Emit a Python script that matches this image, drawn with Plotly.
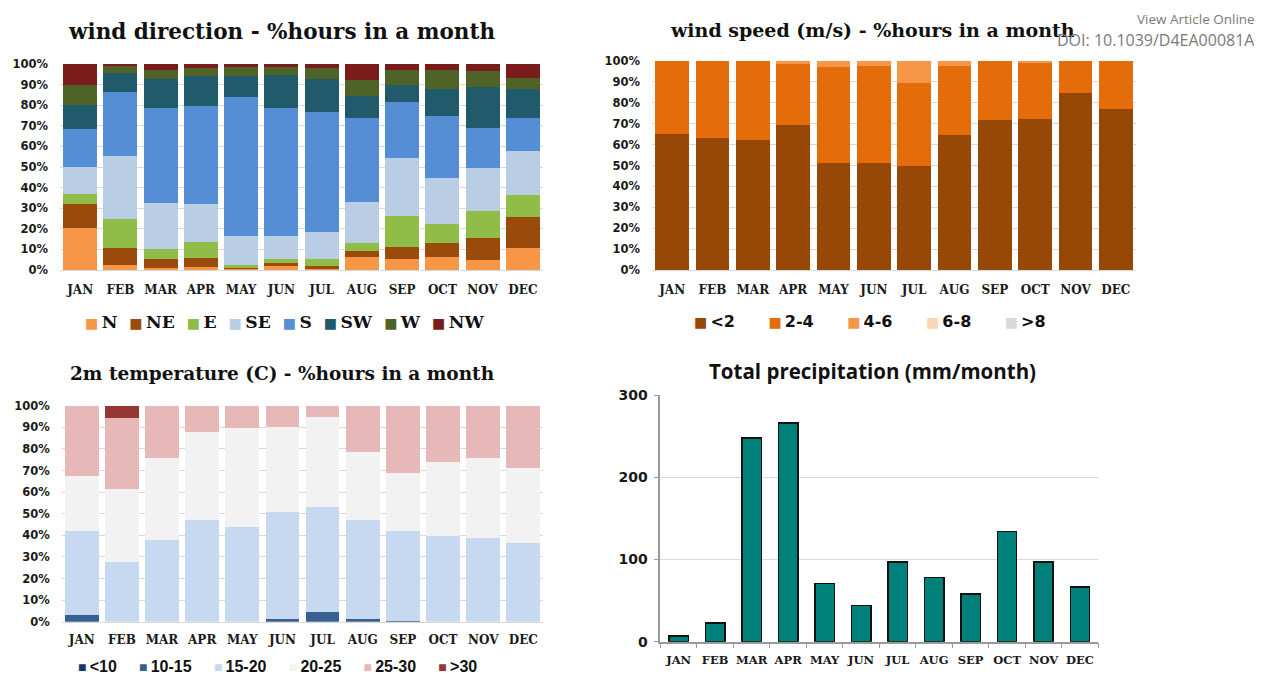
import plotly.graph_objects as go

# page is offset by the browser's default 8px body margin
PAGE_W, PAGE_H, OFF = 1262, 688, 8
W, H = PAGE_W - OFF, PAGE_H - 2 * OFF

months = ["JAN", "FEB", "MAR", "APR", "MAY", "JUN", "JUL", "AUG", "SEP", "OCT", "NOV", "DEC"]

# ---- wind direction (% hours) ----
dir_names = ["N", "NE", "E", "SE", "S", "SW", "W", "NW"]
dir_colors = ["#f79646", "#9a4a0a", "#8fbd47", "#b9cde5", "#558ed5", "#215a6a", "#4f6228", "#7b1c1c"]
dir_N = [20.3, 2.4, 0.8, 1.5, 0.5, 2.0, 0.3, 6.5, 5.2, 6.2, 4.9, 10.5]
dir_NE = [11.8, 8.5, 4.7, 4.3, 0.5, 1.2, 1.7, 2.6, 6.1, 6.8, 10.5, 15.4]
dir_E = [4.7, 13.7, 4.9, 8.0, 1.4, 2.3, 3.2, 4.2, 15.0, 9.5, 13.3, 10.7]
dir_SE = [13.0, 30.5, 22.2, 18.1, 14.3, 11.2, 13.1, 19.8, 28.3, 22.2, 20.6, 21.1]
dir_S = [18.8, 31.4, 46.2, 47.8, 67.1, 62.1, 58.5, 40.6, 26.8, 29.9, 19.6, 16.2]
dir_SW = [11.6, 9.1, 13.9, 14.6, 10.5, 16.0, 16.1, 10.6, 8.6, 13.2, 19.9, 13.9]
dir_W = [9.4, 3.3, 4.5, 3.6, 4.2, 3.7, 5.1, 7.8, 7.2, 9.1, 7.6, 5.4]
dir_NW = [10.4, 1.1, 2.8, 2.1, 1.5, 1.5, 2.0, 7.9, 2.8, 3.1, 3.6, 6.8]
dir_values = [dir_N, dir_NE, dir_E, dir_SE, dir_S, dir_SW, dir_W, dir_NW]

# ---- wind speed (% hours) ----
spd_names = ["<2", "2-4", "4-6", "6-8", ">8"]
spd_colors = ["#974706", "#e46c0a", "#f79646", "#fcd5b5", "#d9d9d9"]
spd_lt2 = [65.1, 63.2, 62.4, 69.2, 51.4, 51.4, 49.6, 64.8, 71.8, 72.2, 84.8, 77.2]
spd_2_4 = [34.9, 36.8, 37.6, 29.4, 45.6, 46.4, 40.0, 33.0, 28.2, 27.0, 15.2, 22.8]
spd_4_6 = [0, 0, 0, 1.4, 3.0, 2.2, 10.4, 2.2, 0, 0.8, 0, 0]
spd_6_8 = [0, 0, 0, 0, 0, 0, 0, 0, 0, 0, 0, 0]
spd_gt8 = [0, 0, 0, 0, 0, 0, 0, 0, 0, 0, 0, 0]
spd_values = [spd_lt2, spd_2_4, spd_4_6, spd_6_8, spd_gt8]

# ---- 2m temperature (% hours) ----
tmp_names = ["<10", "10-15", "15-20", "20-25", "25-30", ">30"]
tmp_colors = ["#17375e", "#376092", "#c6d9f1", "#f2f2f2", "#e6b9b8", "#953735"]
tmp_lt10 = [0, 0, 0, 0, 0, 0, 0, 0, 0, 0, 0, 0]
tmp_10_15 = [3.1, 0, 0, 0, 0, 1.2, 4.6, 1.2, 0.5, 0, 0, 0]
tmp_15_20 = [38.9, 27.8, 37.7, 47.1, 44.0, 49.7, 48.6, 46.0, 41.6, 39.7, 38.6, 36.3]
tmp_20_25 = [25.6, 33.8, 38.2, 40.9, 45.5, 39.4, 41.4, 31.2, 26.9, 34.1, 37.0, 35.0]
tmp_25_30 = [32.4, 32.5, 24.1, 12.0, 10.5, 9.7, 5.4, 21.6, 31.0, 26.2, 24.4, 28.7]
tmp_gt30 = [0, 5.9, 0, 0, 0, 0, 0, 0, 0, 0, 0, 0]
tmp_values = [tmp_lt10, tmp_10_15, tmp_15_20, tmp_20_25, tmp_25_30, tmp_gt30]

# ---- total precipitation (mm/month) ----
precip = [7, 23, 248, 266, 71, 44, 97, 78, 58, 134, 97, 66.5]

# ---------------------------------------------------------------
def px_x(p):
    return (p - OFF) / W


def px_y(p):
    return 1 - (p - OFF) / H


fig = go.Figure()

for names, colors, values, xa, ya in [
    (dir_names, dir_colors, dir_values, "x", "y"),
    (spd_names, spd_colors, spd_values, "x2", "y2"),
    (tmp_names, tmp_colors, tmp_values, "x3", "y3"),
]:
    for n, c, v in zip(names, colors, values):
        fig.add_trace(go.Bar(x=months, y=v, name=n, marker=dict(color=c, line=dict(width=0)),
                             width=0.84, xaxis=xa, yaxis=ya, showlegend=False))

fig.add_trace(go.Bar(x=months, y=precip, name="Total precipitation",
                     marker=dict(color="#00807b", line=dict(color="#111111", width=1.5)),
                     width=0.53, xaxis="x4", yaxis="y4", showlegend=False))

ytick_font = dict(family="DejaVu Sans", size=11.5, color="#1a1a1a", weight="bold")
xtick_font = dict(family="DejaVu Serif", size=12, color="#1a1a1a", weight="bold")

pct_y = dict(range=[0, 100], dtick=10, ticksuffix="%", showgrid=True, gridcolor="#d9d9d9",
             gridwidth=1, zeroline=False, showline=False, ticks="", tickfont=ytick_font,
             ticklabelstandoff=11, automargin=False, fixedrange=True)
cat_x = dict(type="category", showgrid=False, showline=True, linecolor="#d9d9d9",
             ticks="", tickfont=xtick_font, ticklabelstandoff=9, tickangle=0,
             automargin=False, fixedrange=True)

fig.update_layout(
    width=W, height=H, margin=dict(l=0, r=0, t=0, b=0, autoexpand=False),
    paper_bgcolor="white", plot_bgcolor="white",
    barmode="stack", showlegend=False,
    xaxis=dict(cat_x, domain=[px_x(60), px_x(543)], anchor="y"),
    yaxis=dict(pct_y, domain=[px_y(270), px_y(64)], anchor="x"),
    xaxis2=dict(cat_x, domain=[px_x(652), px_x(1136)], anchor="y2"),
    yaxis2=dict(pct_y, domain=[px_y(270), px_y(61)], anchor="x2"),
    xaxis3=dict(cat_x, domain=[px_x(61.7), px_x(543.4)], anchor="y3", ticklabelstandoff=7),
    yaxis3=dict(pct_y, domain=[px_y(621.7), px_y(405.7)], anchor="x3"),
    xaxis4=dict(type="category", domain=[px_x(660.4), px_x(1098.3)], anchor="y4",
                showgrid=False, showline=True, linecolor="#9a9a9a", linewidth=1.5,
                ticks="outside", tickson="boundaries", ticklen=5, tickcolor="#9a9a9a",
                tickfont=dict(family="DejaVu Serif", size=11.5, color="#1a1a1a", weight="bold"),
                ticklabelstandoff=7, tickangle=0, automargin=False, fixedrange=True),
    yaxis4=dict(range=[0, 300], dtick=100, domain=[px_y(641.7), px_y(395)], anchor="x4",
                showgrid=True, gridcolor="#d9d9d9", zeroline=False,
                showline=True, linecolor="#9a9a9a", linewidth=1.5,
                ticks="outside", ticklen=5, tickcolor="#9a9a9a",
                tickfont=dict(family="DejaVu Sans", size=14, color="#1a1a1a", weight="bold"),
                ticklabelstandoff=3, automargin=False, fixedrange=True),
)


def legend_text(names, colors, sq_size, gap):
    parts = []
    for n, c in zip(names, colors):
        parts.append(f"<span style='color:{c};font-size:{sq_size}px'>■</span>&#8201;{n}")
    return gap.join(parts)


annotations = []


def tfont(size):
    return dict(family="DejaVu Serif", size=size, color="#111111", weight="bold")


annotations += [
    dict(text="wind direction - %hours in a month", x=px_x(281), y=px_y(32), font=tfont(21.5)),
    dict(text="wind speed (m/s) - %hours in a month", x=px_x(873), y=px_y(30), font=tfont(19)),
    dict(text="2m temperature (C) - %hours in a month", x=px_x(282), y=px_y(374), font=tfont(18.5)),
    dict(text="Total precipitation (mm/month)", x=px_x(872), y=px_y(371),
         font=dict(family="Open Sans", size=20.5, color="#111111", weight="bold")),
]

annotations += [
    dict(text=legend_text(dir_names, dir_colors, 14, "&nbsp;&nbsp;"), x=px_x(284), y=px_y(322),
         font=dict(family="DejaVu Serif", size=17.2, color="#111111", weight="bold")),
    dict(text=legend_text(spd_names, spd_colors, 14, "&nbsp;" * 6), x=px_x(870), y=px_y(321),
         font=dict(family="DejaVu Sans", size=16, color="#111111", weight="bold")),
    dict(text=legend_text(tmp_names, tmp_colors, 14, "&nbsp;" * 5), x=px_x(277), y=px_y(666),
         font=dict(family="Liberation Sans", size=16, color="#111111", weight="bold")),
]

annotations += [
    dict(text="View Article Online", x=px_x(1256), y=px_y(8.5), xanchor="right", yanchor="top",
         borderpad=0, font=dict(family="Open Sans", size=13.5, color="#7a7a7a")),
    dict(text="DOI: 10.1039/D4EA00081A", x=px_x(1256), y=px_y(39.5), xanchor="right",
         borderpad=0, font=dict(family="Open Sans", size=16, color="#7a7a7a")),
]

for a in annotations:
    a.setdefault("xanchor", "center")
    a.setdefault("yanchor", "middle")
    a.update(xref="paper", yref="paper", showarrow=False)

fig.update_layout(annotations=annotations)

fig.write_html("out.html")
